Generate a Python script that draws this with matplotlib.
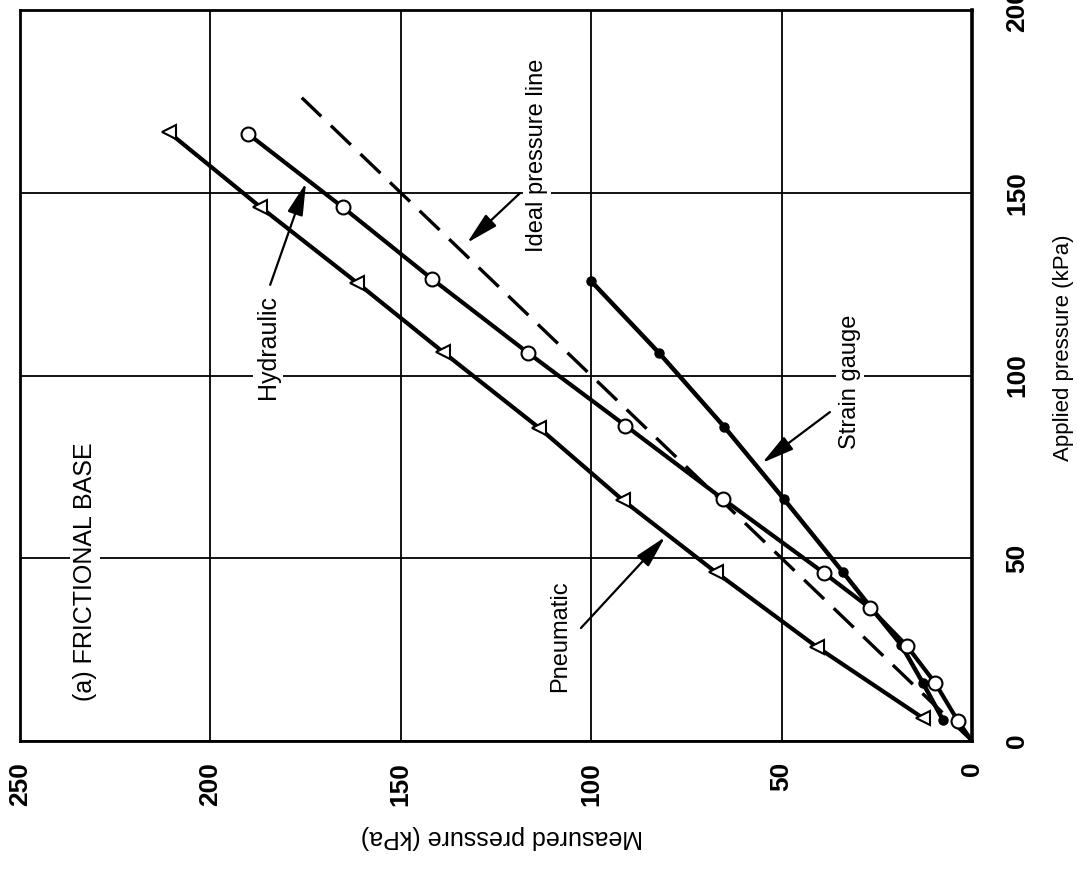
import matplotlib
matplotlib.use("Agg")
import matplotlib.pyplot as plt

# ---- data (Measured pressure kPa vs Applied pressure kPa) ----
hyd_applied = [5.5, 15.9, 26.0, 36.4, 46.0, 66.2, 86.3, 106.2, 126.4, 146.0, 166.1]
hyd_measured = [3.7, 9.7, 17.1, 26.8, 38.9, 65.4, 91.0, 116.6, 141.8, 165.2, 190.1]

pneu_applied = [6.3, 25.7, 46.2, 65.9, 85.6, 106.5, 125.3, 146.2, 166.6]
pneu_measured = [12.9, 40.7, 67.3, 91.7, 113.6, 139.0, 161.4, 187.0, 211.0]

strain_applied = [5.7, 15.9, 26.3, 36.2, 46.2, 66.2, 86.0, 106.2, 125.9]
strain_measured = [7.6, 12.9, 18.6, 26.3, 33.9, 49.4, 65.1, 82.2, 100.1]

ideal_applied = [0, 176]
ideal_measured = [0, 176]

measured_ticks = [0, 50, 100, 150, 200, 250]
applied_ticks = [0, 50, 100, 150, 200]

W, H = 1077, 873
fig = plt.figure(figsize=(W / 100, H / 100), dpi=100)
ax = fig.add_axes([20 / W, 132 / H, 952 / W, 731 / H])

ax.set_xlim(250, 0)
ax.set_ylim(0, 200)
ax.set_xticks(measured_ticks)
ax.set_yticks(applied_ticks)
ax.yaxis.tick_right()
ax.grid(True, color="black", lw=1.3)
ax.set_axisbelow(True)
for s in ax.spines.values():
    s.set_linewidth(2.0)
ax.spines["right"].set_linewidth(2.6)

tickfont = dict(family=["Liberation Sans Narrow", "Liberation Sans", "DejaVu Sans"],
                weight="bold", size=19)
ax.set_xticklabels([str(v) for v in measured_ticks], fontdict=tickfont, rotation=90)
ax.set_yticklabels([str(v) for v in applied_ticks], fontdict=tickfont, rotation=90,
                   va="center")
ax.tick_params(axis="x", length=0, pad=15)
ax.tick_params(axis="y", length=0, pad=24)

lab = ["Liberation Sans", "DejaVu Sans"]
fig.text(502 / W, 1 - 837 / H, "Measured pressure (kPa)", rotation=180,
         ha="center", va="center", fontsize=18, family=lab)
fig.text(1064 / W, 1 - 348 / H, "Applied pressure (kPa)", rotation=90,
         ha="center", va="center", fontsize=16, family=lab)

# ideal line
ax.plot(ideal_measured, ideal_applied, color="black", lw=2.4,
        dashes=(8.3, 4.0), zorder=2)
# pneumatic
ax.plot(pneu_measured, pneu_applied, color="black", lw=3.0, marker="<",
        ms=10, mfc="white", mec="black", mew=1.5, zorder=3)
# strain gauge
ax.plot(strain_measured, strain_applied, color="black", lw=3.2, marker="o",
        ms=6.5, mfc="black", mec="black", zorder=3)
# hydraulic (line runs from origin)
ax.plot([0, hyd_measured[0]], [0, hyd_applied[0]], color="black", lw=3.0, zorder=4)
ax.plot(hyd_measured, hyd_applied, color="black", lw=3.0, marker="o",
        ms=10, mfc="white", mec="black", mew=1.5, zorder=4)

bb = dict(fc="white", ec="none", pad=2)
arrow = dict(arrowstyle="-|>,head_length=0.9,head_width=0.22", lw=1.6,
             color="black", mutation_scale=22, shrinkA=0, shrinkB=0)

ax.text(232.9, 46.2, "(a) FRICTIONAL BASE", rotation=90, ha="center",
        va="center", fontsize=18, family=lab, bbox=bb, zorder=5)

ax.text(184.9, 107.8, "Hydraulic", rotation=90, ha="center", va="center",
        fontsize=18, family=lab, bbox=bb, zorder=5)
ax.annotate("", xy=(174.9, 152.7), xytext=(184.3, 124.8), arrowprops=arrow, zorder=5)

ax.text(108.2, 28.7, "Pneumatic", rotation=90, ha="center", va="center",
        fontsize=17, family=lab, bbox=bb, zorder=5)
ax.annotate("", xy=(80.6, 55.8), xytext=(102.7, 30.9), arrowprops=arrow, zorder=5)

ax.text(114.2, 160.3, "Ideal pressure line", rotation=90, ha="center",
        va="center", fontsize=17, family=lab, bbox=bb, zorder=5)
ax.annotate("", xy=(132.6, 136.3), xytext=(118.7, 149.9), arrowprops=arrow, zorder=5)

ax.text(32.0, 98.2, "Strain gauge", rotation=90, ha="center", va="center",
        fontsize=17, family=lab, bbox=bb, zorder=5)
ax.annotate("", xy=(55.1, 76.1), xytext=(37.3, 90.0), arrowprops=arrow, zorder=5)

fig.savefig("out.png", dpi=100)
